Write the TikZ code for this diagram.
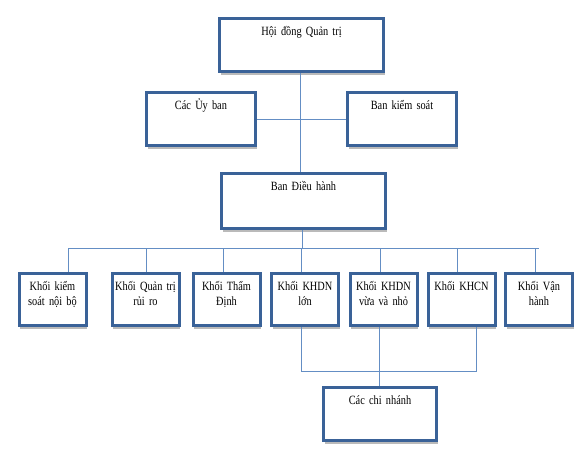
\documentclass[tikz,border=0pt]{standalone}
\usepackage{fontspec}
\setmainfont[FakeStretch=0.82, WordSpace=0.85]{Liberation Serif}
\usepackage{tikz}
\usetikzlibrary{shapes,shadows}
\definecolor{boxblue}{RGB}{58,98,152}
\definecolor{linkblue}{RGB}{100,142,196}
\tikzstyle{block} = [rectangle, draw=boxblue, line width=3pt, fill=white,
    text width=160pt, align=center, inner xsep=2pt, inner ysep=3pt,
    text height=14pt, text depth=33pt,
    drop shadow={shadow xshift=1pt, shadow yshift=-3.5pt, fill=black!45, opacity=0.6}]
\tikzstyle{blocks} = [block, text width=105pt]
\tikzstyle{blockr} = [block, text width=67pt, inner xsep=0pt,
    text height=13.5pt, text depth=32.5pt]
\tikzstyle{line} = [draw=linkblue, line width=0.8pt]

\begin{document}
\begin{tikzpicture}[x=1pt, y=1pt, node distance=78pt,
    every node/.style={font=\fontsize{12.6}{15}\selectfont}]
    \useasboundingbox (0,0) rectangle (583,-454);
    % Place nodes
    \node [block] (hdqt) at (301.5,-45) {Hội đồng Quản trị};
    \node [blocks, below of=hdqt, node distance=74pt, xshift=-100.5pt] (uyban) {Các Ủy ban};
    \node [blocks, right of=uyban, node distance=201pt] (bks) {Ban kiểm soát};
    \node [block, below of=hdqt, node distance=156pt, xshift=2pt,
        text depth=35pt] (dieuhanh) {Ban Điều hành};
    \node [blockr] (kiemsoat) at (52.5,-299.5) {Khối kiểm\\soát nội bộ};
    \node [blockr, right of=kiemsoat, node distance=93pt] (quantri) {Khối Quản trị\\rủi ro};
    \node [blockr, right of=quantri, node distance=81pt] (thamdinh) {Khối Thẩm\\Định};
    \node [blockr, right of=thamdinh, node distance=78.5pt] (khdnlon) {Khối KHDN\\lớn};
    \node [blockr, right of=khdnlon, node distance=78.5pt] (khdnvvn) {Khối KHDN\\vừa và nhỏ};
    \node [blockr, right of=khdnvvn] (khcn) {Khối KHCN};
    \node [blockr, right of=khcn, node distance=77.5pt] (vanhanh) {Khối Vận\\hành};
    \node [blocks, text width=109pt, below of=khdnvvn, node distance=114.5pt,
        xshift=-3.5pt] (chinhanh) {Các chi nhánh};
    \coordinate (busL) at (68,-248);
    \coordinate (busR) at (539,-248);
    \coordinate (lowbus) at (301,-371);

    % Draw edges
    \path [line] ([xshift=-1pt]hdqt.south) -- ([xshift=-1pt]hdqt.south |- dieuhanh.north);
    \path [line] (uyban) -- (bks);
    \path [line] ([xshift=-1.5pt]dieuhanh.south) -- ([xshift=-1.5pt]dieuhanh.south |- busL);
    \path [line] (busL) -- (busR);
    \foreach \n/\dx in {kiemsoat/15.5, quantri/0.5, thamdinh/-3.5, khdnlon/-4,
        khdnvvn/-3.5, khcn/-4.5, vanhanh/-4}
        \path [line] ([xshift=\dx pt]\n.north) -- ([xshift=\dx pt]\n.north |- busL);
    \path [line] ([xshift=-4pt]khdnlon.south) |- (lowbus) -| ([xshift=14.5pt]khcn.south);
    \path [line] ([xshift=-4.5pt]khdnvvn.south) -- ([xshift=-4.5pt]khdnvvn.south |- chinhanh.north);
\end{tikzpicture}
\end{document}
